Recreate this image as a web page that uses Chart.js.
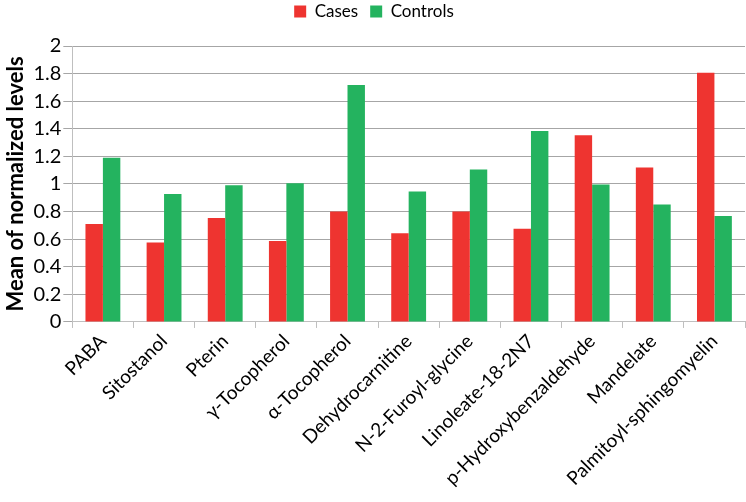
<!DOCTYPE html>
<html>
<head>
<meta charset="utf-8">
<script src="https://cdn.jsdelivr.net/npm/chart.js@4/dist/chart.umd.min.js"></script>
<style>
  html, body { margin: 0; padding: 0; background: #fff; }
  #wrap { width: 746px; height: 502px; }
</style>
</head>
<body>
<div id="wrap"><canvas id="chart"></canvas></div>
<script>
const categories = ["PABA", "Sitostanol", "Pterin", "\u03b3-Tocopherol", "\u03b1-Tocopherol",
  "Dehydrocarnitine", "N-2-Furoyl-glycine", "Linoleate-18-2N7", "p-Hydroxybenzaldehyde",
  "Mandelate", "Palmitoyl-sphingomyelin"];
const cases = [0.71, 0.575, 0.753, 0.587, 0.80, 0.643, 0.80, 0.676, 1.353, 1.119, 1.807];
const controls = [1.19, 0.927, 0.99, 1.006, 1.718, 0.946, 1.105, 1.384, 0.996, 0.852, 0.768];
const yTicks = [0, 0.2, 0.4, 0.6, 0.8, 1, 1.2, 1.4, 1.6, 1.8, 2];

const font = "Lato";

// push the plot down a bit below the legend
const legendGap = {
    id: "legendGap",
    beforeInit(chart) {
        const fit = chart.legend.fit;
        chart.legend.fit = function () {
            fit.bind(chart.legend)();
            this.height += 16;
        };
    }
};

new Chart(document.getElementById("chart"), {
    type: "bar",
    data: {
        labels: categories,
        datasets: [
            { label: "Cases", data: cases, backgroundColor: "#ee3430" },
            { label: "Controls", data: controls, backgroundColor: "#24b35f" }
        ]
    },
    plugins: [legendGap],
    options: {
        responsive: true,
        maintainAspectRatio: false,
        animation: false,
        datasets: { bar: { categoryPercentage: 0.57, barPercentage: 1.0 } },
        layout: { padding: { top: -9, right: 1, left: 3, bottom: 10 } },
        plugins: {
            legend: {
                position: "top",
                labels: {
                    color: "#000",
                    font: { family: font, size: 17 },
                    boxWidth: 12, boxHeight: 12, padding: 12
                }
            },
            tooltip: { enabled: false }
        },
        scales: {
            x: {
                grid: { drawOnChartArea: false, drawTicks: true, tickLength: 6, color: "#bfbfbf" },
                border: { color: "#bfbfbf" },
                ticks: {
                    color: "#000", font: { family: font, size: 19 },
                    minRotation: 45, maxRotation: 45, autoSkip: false, padding: 2
                }
            },
            y: {
                min: 0, max: 2,
                afterBuildTicks: axis => { axis.ticks = yTicks.map(v => ({ value: v })); },
                grid: { color: "#a6a6a6", tickLength: 9 },
                border: { color: "#bfbfbf" },
                ticks: { color: "#000", font: { family: font, size: 20 }, padding: 2,
                    callback: v => String(v) },
                title: {
                    display: true, text: "Mean of normalized levels", color: "#000",
                    font: { family: font, size: 22, weight: "bold" }, padding: { top: 0, bottom: 2 }
                }
            }
        }
    }
});
</script>
</body>
</html>
